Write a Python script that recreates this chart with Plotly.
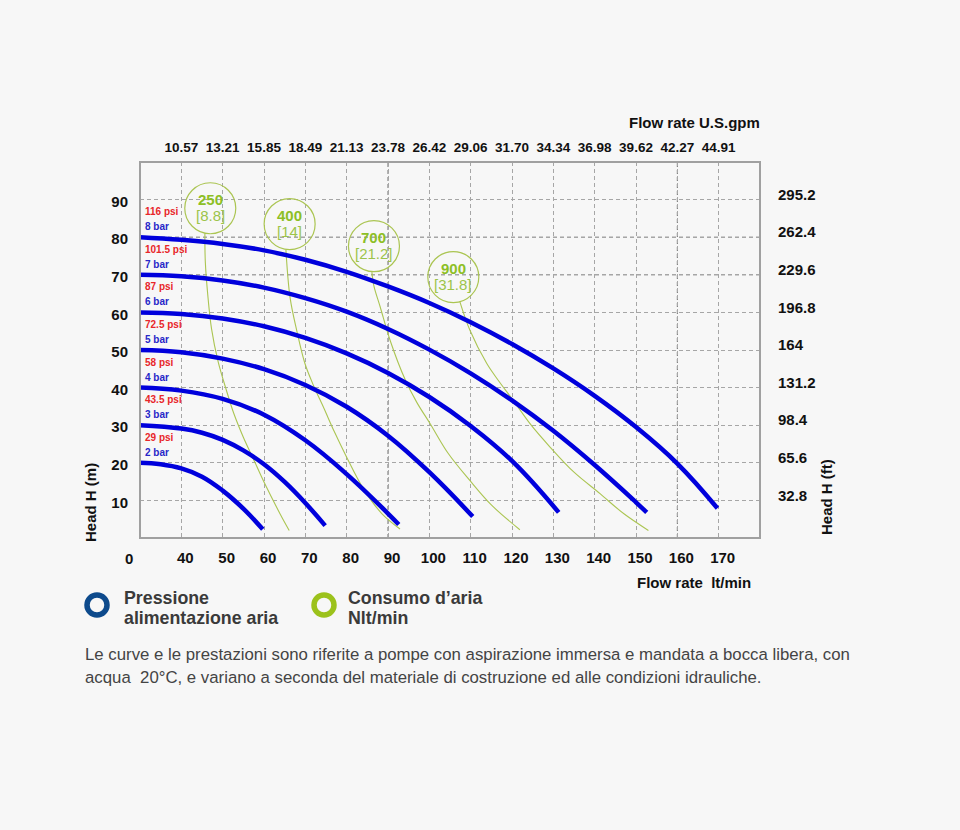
import plotly.graph_objects as go

# ---------------- data ----------------
flow_ticks = [40, 50, 60, 70, 80, 90, 100, 110, 120, 130, 140, 150, 160, 170]
gpm_labels = ["10.57", "13.21", "15.85", "18.49", "21.13", "23.78", "26.42",
              "29.06", "31.70", "34.34", "36.98", "39.62", "42.27", "44.91"]
head_ticks = [10, 20, 30, 40, 50, 60, 70, 80, 90]
head_ft_labels = ["32.8", "65.6", "98.4", "131.2", "164", "196.8", "229.6", "262.4", "295.2"]

bar_labels = ["2 bar", "3 bar", "4 bar", "5 bar", "6 bar", "7 bar", "8 bar"]
psi_labels = ["29 psi", "43.5 psi", "58 psi", "72.5 psi", "87 psi", "101.5 psi", "116 psi"]

q_2bar = [30, 35, 40, 45, 50, 55, 59.7]
h_2bar = [20, 19.6, 18.5, 16.3, 12.6, 7.8, 2.3]
q_3bar = [30, 40, 45, 50, 55, 60, 65, 70, 74.8]
h_3bar = [30, 29.1, 28.0, 26.1, 23.3, 19.6, 14.9, 9.3, 3.3]
q_4bar = [30, 40, 50, 60, 70, 80, 90, 92.6]
h_4bar = [40, 39.2, 37.0, 32.8, 26.0, 17.0, 6.5, 3.6]
q_5bar = [30, 40, 50, 60, 70, 80, 90, 100, 110.5]
h_5bar = [50, 49.4, 47.7, 44.9, 40.7, 34.9, 27.2, 17.5, 5.7]
q_6bar = [30, 40, 50, 60, 70, 80, 90, 100, 110, 120, 131.3]
h_6bar = [60, 59.6, 58.4, 56.3, 53.2, 49.1, 43.9, 37.5, 29.8, 20.5, 6.8]
q_7bar = [30, 40, 50, 60, 70, 80, 90, 100, 110, 120, 130, 140, 150, 152.6]
h_7bar = [70, 69.6, 68.5, 66.6, 63.8, 60.2, 55.6, 50.1, 43.8, 36.6, 28.5, 19.4, 9.5, 6.8]
q_8bar = [30, 40, 50, 60, 70, 80, 90, 100, 110, 120, 130, 140, 150, 160, 169.7]
h_8bar = [80, 79.3, 78.2, 76.5, 74.0, 70.8, 66.9, 62.5, 57.4, 51.6, 45.1, 37.8, 29.5, 19.8, 7.9]

air_nl = ["250", "400", "700", "900"]
air_scfm = ["8.8", "14", "21.2", "31.8"]
q_250 = [45.7, 45.8, 46.4, 47.3, 48.9, 50.9, 52.7, 55.0, 57.4, 60.2, 63.9, 66.1]
h_250 = [81.0, 73.5, 64.6, 55.7, 46.9, 39.3, 33.1, 26.8, 21.1, 14.4, 6.4, 2.0]
q_400 = [65.3, 66.3, 67.9, 69.9, 72.0, 74.5, 77.0, 80.0, 84.0, 88.5, 92.9]
h_400 = [76.7, 64.0, 55.3, 46.4, 40.5, 34.5, 28.3, 21.5, 13.2, 6.5, 2.4]
q_700 = [86.1, 86.6, 88.1, 90.5, 94.2, 97.0, 100.2, 104.5, 109.8, 115.0, 121.9]
h_700 = [70.7, 67.0, 61.5, 52.6, 42.0, 36.0, 30.4, 22.6, 15.3, 8.8, 2.2]
q_900 = [107.4, 109.8, 113.9, 116.7, 120.3, 124.5, 129.2, 135.0, 141.3, 147.0, 153.0]
h_900 = [62.8, 55.3, 46.4, 41.9, 36.6, 30.2, 24.2, 17.5, 11.8, 6.5, 2.0]

# label anchor positions (flow, head) of the air-consumption circles
circle_q = [47.0, 66.2, 86.6, 105.8]
circle_h = [87.7, 83.5, 77.6, 69.4]

# ---------------- styles ----------------
FONT = "Arial, 'Liberation Sans', sans-serif"
BG = "#f7f7f7"
BLUE = "#0000dc"
GREEN_LINE = "#abc552"
GREEN_TXT = "#8dbf26"
GREEN_TXT2 = "#9cc44a"
GRID = "#a6a6a6"

fig = go.Figure()

blue_q = [q_2bar, q_3bar, q_4bar, q_5bar, q_6bar, q_7bar, q_8bar]
blue_h = [h_2bar, h_3bar, h_4bar, h_5bar, h_6bar, h_7bar, h_8bar]
green_q = [q_250, q_400, q_700, q_900]
green_h = [h_250, h_400, h_700, h_900]

for q, h in zip(green_q, green_h):
    fig.add_trace(go.Scatter(x=q, y=h, mode="lines",
                             line=dict(color=GREEN_LINE, width=1.1, shape="spline", smoothing=1.0),
                             hoverinfo="skip", showlegend=False))
for q, h in zip(blue_q, blue_h):
    fig.add_trace(go.Scatter(x=q, y=h, mode="lines",
                             line=dict(color=BLUE, width=4.5, shape="spline", smoothing=1.2),
                             hoverinfo="skip", showlegend=False))

# dummy traces for secondary axes
fig.add_trace(go.Scatter(x=[None], y=[None], xaxis="x2", yaxis="y", showlegend=False))
fig.add_trace(go.Scatter(x=[None], y=[None], xaxis="x", yaxis="y2", showlegend=False))

shapes = []
# darker grid lines
for xv in [90, 160]:
    shapes.append(dict(type="line", xref="x", yref="paper", x0=xv, x1=xv, y0=0, y1=1,
                       line=dict(color="#6e6e6e", width=1, dash="4px,3px"), layer="below"))
for yv in [70, 80]:
    shapes.append(dict(type="line", xref="paper", yref="y", x0=0, x1=1, y0=yv, y1=yv,
                       line=dict(color="#6e6e6e", width=1, dash="4px,3px"), layer="below"))
# frame
shapes.append(dict(type="rect", xref="paper", yref="paper", x0=0, x1=1, y0=0, y1=1,
                   line=dict(color="#a0a0a0", width=2)))
# circles
for cq, ch in zip(circle_q, circle_h):
    shapes.append(dict(type="circle", xref="x", yref="y", xsizemode="pixel", ysizemode="pixel",
                       xanchor=cq, yanchor=ch, x0=-25.5, x1=25.5, y0=-25.5, y1=25.5,
                       line=dict(color=GREEN_LINE, width=1.2), fillcolor="rgba(0,0,0,0)"))

def px_x(p):
    return (p - 140) / 620.0

def px_y(p):
    return (538 - p) / 376.0

# legend rings
for cx, col in [(97, "#0d4a8c"), (324, "#9cc21c")]:
    shapes.append(dict(type="circle", xref="paper", yref="paper", xsizemode="pixel", ysizemode="pixel",
                       xanchor=px_x(cx), yanchor=px_y(605), x0=-10, x1=10, y0=-10, y1=10,
                       line=dict(color=col, width=5.5), fillcolor="rgba(0,0,0,0)"))

ann = []
for num, sc, cq, ch in zip(air_nl, air_scfm, circle_q, circle_h):
    ann.append(dict(x=cq, y=ch, xref="x", yref="y", text="<b>%s</b>" % num, showarrow=False,
                    yshift=8.5, font=dict(family=FONT, size=15, color=GREEN_TXT)))
    ann.append(dict(x=cq, y=ch, xref="x", yref="y", text="[%s]" % sc, showarrow=False,
                    yshift=-7.5, font=dict(family=FONT, size=15, color=GREEN_TXT2)))

for b, p, h in zip(bar_labels, psi_labels, [h[0] for h in blue_h]):
    ann.append(dict(x=30.8, y=h, xref="x", yref="y", text="<b>%s</b>" % p, showarrow=False,
                    xanchor="left", yanchor="middle", yshift=25.5,
                    font=dict(family=FONT, size=10, color="#e8262a")))
    ann.append(dict(x=30.8, y=h, xref="x", yref="y", text="<b>%s</b>" % b, showarrow=False,
                    xanchor="left", yanchor="middle", yshift=10.5,
                    font=dict(family=FONT, size=10, color="#2727c8")))

# "0" at the bottom-left
ann.append(dict(x=px_x(128.5), y=px_y(558), xref="paper", yref="paper", text="<b>0</b>", showarrow=False,
                xanchor="center", yanchor="middle", font=dict(family=FONT, size=15, color="#111")))

LEG = dict(family=FONT, size=17.8, color="#3a3a3a")
ann += [
    dict(x=px_x(762), y=px_y(123), xref="paper", yref="paper", text="<b>Flow rate U.S.gpm</b>",
         showarrow=False, xanchor="right", yanchor="middle", font=dict(family=FONT, size=15, color="#111")),
    dict(x=px_x(753), y=px_y(582), xref="paper", yref="paper", text="<b>Flow rate  lt/min</b>",
         showarrow=False, xanchor="right", yanchor="middle", font=dict(family=FONT, size=15, color="#111")),
    dict(x=px_x(90), y=px_y(503), xref="paper", yref="paper", text="<b>Head H (m)</b>", textangle=-90,
         showarrow=False, xanchor="center", yanchor="middle", font=dict(family=FONT, size=15, color="#111")),
    dict(x=px_x(826), y=px_y(497), xref="paper", yref="paper", text="<b>Head H (ft)</b>", textangle=-90,
         showarrow=False, xanchor="center", yanchor="middle", font=dict(family=FONT, size=15, color="#111")),
    dict(x=px_x(122), y=px_y(598), xref="paper", yref="paper", text="<b>Pressione</b>",
         showarrow=False, xanchor="left", yanchor="middle", font=LEG),
    dict(x=px_x(122), y=px_y(618), xref="paper", yref="paper", text="<b>alimentazione aria</b>",
         showarrow=False, xanchor="left", yanchor="middle", font=LEG),
    dict(x=px_x(346), y=px_y(598), xref="paper", yref="paper", text="<b>Consumo d’aria</b>",
         showarrow=False, xanchor="left", yanchor="middle", font=LEG),
    dict(x=px_x(346), y=px_y(618), xref="paper", yref="paper", text="<b>Nlt/min</b>",
         showarrow=False, xanchor="left", yanchor="middle", font=LEG),
    dict(x=px_x(83), y=px_y(654), xref="paper", yref="paper",
         text="Le curve e le prestazioni sono riferite a pompe con aspirazione immersa e mandata a bocca libera, con",
         showarrow=False, xanchor="left", yanchor="middle", font=dict(family=FONT, size=16.8, color="#444")),
    dict(x=px_x(83), y=px_y(677), xref="paper", yref="paper",
         text="acqua  20°C, e variano a seconda del materiale di costruzione ed alle condizioni idrauliche.",
         showarrow=False, xanchor="left", yanchor="middle", font=dict(family=FONT, size=16.8, color="#444")),
]

tickfont = dict(family=FONT, size=15, color="#111", weight="bold")

fig.update_layout(
    width=960, height=830,
    margin=dict(l=140, r=200, t=162, b=292, autoexpand=False),
    paper_bgcolor=BG, plot_bgcolor=BG,
    showlegend=False,
    xaxis=dict(range=[30, 180], tickvals=flow_ticks, ticktext=[str(v) for v in flow_ticks],
               showgrid=True, gridcolor=GRID, griddash="4px,3px", gridwidth=1,
               zeroline=False, showline=False, ticks="", tickfont=tickfont,
               ticklabelstandoff=9, ticklabelshift=4),
    xaxis2=dict(range=[30, 180], overlaying="x", side="top", tickvals=flow_ticks, ticktext=gpm_labels,
                showgrid=False, zeroline=False, showline=False, ticks="",
                tickfont=dict(family=FONT, size=13.5, color="#111", weight="bold"), ticklabelstandoff=6),
    yaxis=dict(range=[0, 100], tickvals=head_ticks, ticktext=[str(v) for v in head_ticks],
               showgrid=True, gridcolor=GRID, griddash="4px,3px", gridwidth=1,
               zeroline=False, showline=False, ticks="", tickfont=tickfont, ticklabelstandoff=11,
               ticklabelshift=2),
    yaxis2=dict(range=[0, 100], overlaying="y", side="right", tickvals=head_ticks, ticktext=head_ft_labels,
                showgrid=False, zeroline=False, showline=False, ticks="", tickfont=tickfont,
                ticklabelstandoff=17, ticklabelshift=-5),
    shapes=shapes,
    annotations=ann,
)

fig.write_html("out.html")
